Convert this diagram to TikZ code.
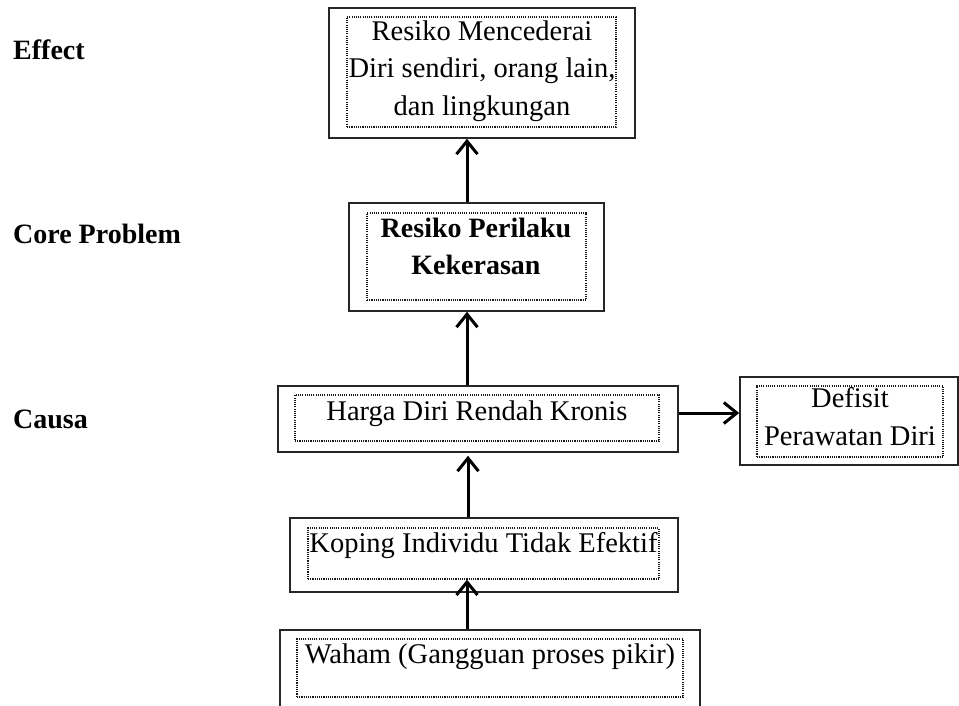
\documentclass[tikz,border=0pt]{standalone}
\usepackage{fontspec}
\setmainfont{Liberation Serif}
\usetikzlibrary{arrows.meta}

\begin{document}
\begin{tikzpicture}[x=1pt,y=-1pt,
  outbox/.style={draw=black!85,line width=1.6pt,inner sep=0pt},
  inbox/.style={draw=black!90,line width=1.3pt,dash pattern=on 1.1pt off 1.1pt,inner sep=0pt},
  txt/.style={font=\fontsize{28.5}{37.5}\selectfont,align=center,inner sep=0pt},
  lbl/.style={font=\fontsize{28}{34}\selectfont\bfseries,inner sep=0pt,anchor=base west},
  arr/.style={line width=3pt,-{Straight Barb[length=13pt,width=21pt]}}]

\useasboundingbox (0,0) rectangle (959,706);
\clip (0,0) rectangle (959,706);

% levels
\node[lbl] (leffect) at (13,60) {Effect};
\node[lbl] (lcore) at (13,243) {Core Problem};
\node[lbl] (lcausa) at (13,428) {Causa};

% effect
\node[outbox,minimum width=306pt,minimum height=130pt] (effect) at (482,73) {};
\node[inbox,minimum width=269pt,minimum height=110pt] (effectin) at (481.5,72) {};
\node[txt] (effecttx) at (482,71) {Resiko Mencederai\\Diri sendiri, orang lain,\\dan lingkungan};

% core problem
\node[outbox,minimum width=255pt,minimum height=108pt] (core) at (476.5,257) {};
\node[inbox,minimum width=219pt,minimum height=87pt] (corein) at (476.5,256.5) {};
\node[txt,font=\fontsize{28}{37.5}\selectfont\bfseries] (coretx) at (476,246.5) {Resiko Perilaku\\Kekerasan};

% causa
\node[outbox,minimum width=400pt,minimum height=66pt] (harga) at (478,419) {};
\node[inbox,minimum width=364pt,minimum height=46pt] (hargain) at (477,418) {};
\node[txt,anchor=base] (hargatx) at (477,420) {Harga Diri Rendah Kronis};

\node[outbox,minimum width=218pt,minimum height=88pt] (defisit) at (849,421) {};
\node[inbox,minimum width=186pt,minimum height=71pt] (defisitin) at (850,421.5) {};
\node[txt] (defisittx) at (850,416.5) {Defisit\\Perawatan Diri};

\node[outbox,minimum width=388pt,minimum height=74pt] (koping) at (484,555) {};
\node[inbox,minimum width=351pt,minimum height=51pt] (kopingin) at (483.5,553.5) {};
\node[txt,anchor=base] (kopingtx) at (483.5,552) {Koping Individu Tidak Efektif};

\node[outbox,minimum width=420pt,minimum height=100pt] (waham) at (490,680) {};
\node[inbox,minimum width=386pt,minimum height=58pt] (wahamin) at (490,668) {};
\node[txt,anchor=base] (wahamtx) at (490,663) {Waham (Gangguan proses pikir)};

% arrows
\draw[arr] ([xshift=-9.5pt]core.north) -- ([xshift=-9.5pt]core.north |- effect.south);
\draw[arr] ([xshift=-11pt]harga.north) -- ([xshift=-11pt]harga.north |- core.south);
\draw[arr] ([xshift=-16pt]koping.north) -- ([xshift=-16pt,yshift=-3pt]koping.north |- harga.south);
\draw[arr] ([xshift=-23pt]waham.north) -- ([xshift=-23pt]waham.north |- kopingin.south);
\draw[arr] ([yshift=6pt]harga.east) -- ([yshift=6pt]harga.east -| defisit.west);

\end{tikzpicture}
\end{document}
